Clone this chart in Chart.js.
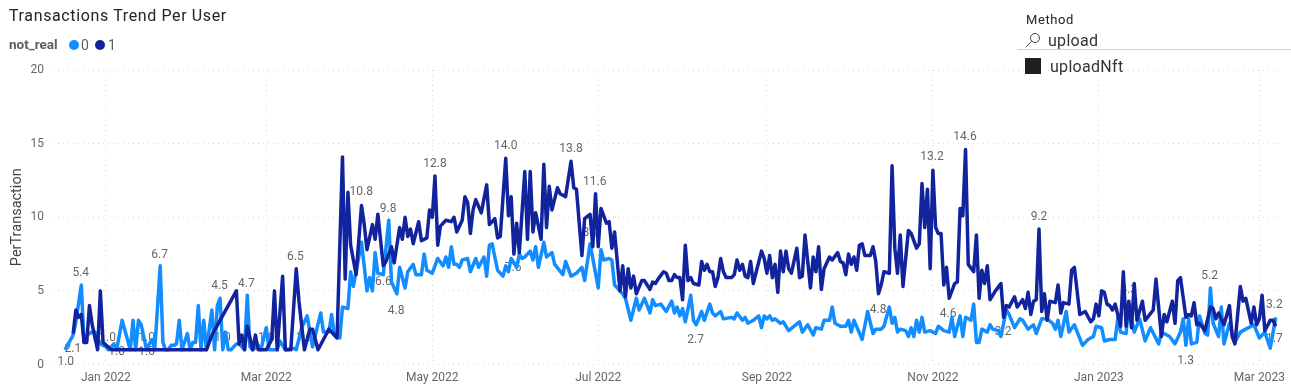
<!DOCTYPE html>
<html>
<head>
<meta charset="utf-8">
<title>Transactions Trend Per User</title>
<script src="https://cdn.jsdelivr.net/npm/chart.js@4"></script>
<style>
  html, body { margin: 0; padding: 0; background: #fff; }
  body { width: 1291px; height: 389px; position: relative; overflow: hidden; font-family: Roboto, "Noto Sans", sans-serif; }
  canvas { position: absolute; left: 0; top: 2px; }
  .txt { position: absolute; white-space: nowrap; line-height: 1; }
  #title { left: 9px; top: 8px; font-size: 16px; color: #252423; letter-spacing: 0.63px; }
  #legend-name { left: 9px; top: 38px; font-size: 13.5px; font-weight: 700; color: #605e5c; }
  .dot { position: absolute; top: 40px; width: 10px; height: 10px; border-radius: 50%; }
  .legend-val { top: 38px; font-size: 14px; color: #605e5c; }
  #slicer-name { left: 1026px; top: 13px; font-size: 13px; color: #252423; letter-spacing: 0.6px; }
  #search { left: 1048px; top: 33px; font-size: 16px; color: #333; letter-spacing: 0.3px; }
  #rule { position: absolute; left: 1017px; top: 49px; width: 274px; height: 1px; background: #d0d0d0; }
  #box { position: absolute; left: 1025px; top: 58px; width: 16px; height: 16px; background: #1f1f1f; }
  #item { left: 1050px; top: 59px; font-size: 16px; color: #333; letter-spacing: 0.3px; }
  #icon { position: absolute; left: 1025px; top: 32px; }
</style>
</head>
<body>
<canvas id="chart" width="1291" height="389"></canvas>
<div class="txt" id="title">Transactions Trend Per User</div>
<div class="txt" id="legend-name">not_real</div>
<div class="dot" style="left:69px;background:#118dff"></div>
<div class="txt legend-val" style="left:81px">0</div>
<div class="dot" style="left:95px;background:#12239e"></div>
<div class="txt legend-val" style="left:108px">1</div>
<div class="txt" id="slicer-name">Method</div>
<svg id="icon" width="16" height="16" viewBox="0 0 16 16"><circle cx="10" cy="6" r="4.5" fill="none" stroke="#444" stroke-width="1"/><line x1="6.6" y1="9.4" x2="1" y2="15" stroke="#444" stroke-width="1"/></svg>
<div class="txt" id="search">upload</div>
<div id="rule"></div>
<div id="box"></div>
<div class="txt" id="item">uploadNft</div>

<script>
// x values are days counted from 1 Jan 2022
const tickDays = [0, 59, 120, 181, 243, 304, 365, 424];
const tickLabels = ["Jan 2022", "Mar 2022", "May 2022", "Jul 2022", "Sep 2022", "Nov 2022", "Jan 2023", "Mar 2023"];
const yTicks = [0, 5, 10, 15, 20];

const days0 = [
  -15, -12, -11, -9, -8, -7, -5, -4, -2, 0, 1, 3, 4, 6, 9, 10, 11, 12, 13, 15, 16, 17, 18, 20, 21, 22, 23, 24, 25, 26,
  27, 28, 30, 31, 32, 33, 34, 35, 36, 37, 39, 40, 41, 42, 43, 44, 45, 46, 48, 49, 51, 52, 53, 54, 56, 57, 59, 60, 63, 64,
  66, 69, 70, 72, 74, 76, 79, 80, 82, 83, 84, 86, 87, 89, 90, 91, 94, 96, 97, 98, 99, 100, 102, 104, 105, 107, 108, 110, 111, 113,
  114, 116, 117, 118, 120, 122, 124, 125, 126, 127, 128, 129, 130, 131, 133, 134, 136, 137, 139, 140, 141, 142, 144, 146, 147, 148, 149, 151, 152, 153,
  154, 156, 157, 158, 159, 161, 162, 164, 165, 168, 169, 171, 173, 175, 176, 178, 181, 182, 183, 185, 186, 187, 190, 191, 193, 195, 196, 198, 200, 201,
  202, 204, 206, 208, 209, 210, 211, 212, 213, 215, 216, 217, 219, 220, 222, 223, 224, 226, 227, 230, 231, 232, 234, 235, 236, 238, 240, 241, 242, 243,
  244, 245, 246, 248, 249, 251, 253, 255, 256, 258, 260, 261, 263, 264, 266, 267, 268, 270, 272, 273, 274, 275, 278, 280, 282, 283, 285, 286, 288, 289,
  290, 291, 292, 294, 295, 296, 297, 298, 299, 300, 301, 303, 305, 306, 308, 310, 311, 312, 314, 315, 316, 318, 319, 320, 321, 322, 324, 325, 326, 328,
  329, 331, 332, 334, 336, 337, 339, 341, 342, 344, 346, 348, 349, 350, 351, 353, 354, 356, 359, 361, 363, 364, 366, 367, 369, 371, 372, 373, 375, 376,
  378, 380, 382, 384, 387, 388, 391, 393, 395, 396, 397, 398, 399, 401, 402, 404, 405, 406, 407, 409, 410, 411, 413, 415, 417, 419, 422, 424, 426, 428, 430
];
const values0 = [
  1.0, 2.0, 2.9, 5.4, 1.5, 2.0, 2.2, 2.2, 1.4, 1.2, 1.0, 1.4, 1.0, 3.0, 1.0, 3.0, 1.0, 3.0, 2.7, 1.0, 1.4, 1.7, 1.0, 6.7, 1.5, 1.0, 1.0, 1.3, 1.3, 1.4,
  3.0, 1.0, 2.1, 1.0, 1.5, 1.5, 4.0, 1.0, 3.0, 1.0, 3.7, 1.0, 4.0, 4.5, 1.0, 2.2, 1.0, 1.0, 1.4, 1.4, 1.0, 4.7, 1.2, 1.0, 1.3, 1.0, 2.5, 1.0, 1.0, 1.6,
  1.0, 1.1, 1.0, 2.5, 3.3, 1.2, 3.5, 2.2, 2.2, 3.4, 2.0, 1.8, 3.9, 3.8, 6.3, 5.3, 8.3, 5.0, 5.9, 5.0, 7.6, 6.2, 6.1, 9.8, 5.6, 4.8, 6.6, 5.2, 6.3, 6.8,
  6.1, 6.1, 7.5, 6.4, 6.2, 7.2, 6.7, 7.3, 6.6, 8.0, 6.8, 6.8, 6.6, 7.1, 7.2, 6.3, 7.2, 6.6, 7.3, 6.0, 8.1, 8.2, 6.4, 6.0, 6.7, 6.3, 7.2, 6.6, 7.5, 7.2,
  7.3, 7.7, 7.1, 8.0, 6.6, 8.3, 7.3, 7.6, 6.8, 6.1, 7.0, 6.0, 6.2, 6.6, 5.7, 8.2, 5.2, 7.8, 7.1, 7.2, 7.1, 5.4, 4.8, 4.5, 3.0, 4.5, 3.7, 4.5, 3.5, 4.4,
  4.0, 4.1, 3.6, 4.3, 3.5, 3.9, 3.3, 3.8, 2.9, 4.7, 3.0, 2.7, 3.6, 3.0, 4.1, 3.5, 3.3, 3.6, 3.1, 3.2, 3.1, 3.5, 3.0, 3.2, 2.8, 3.0, 3.3, 2.5, 3.3, 3.1,
  3.3, 3.0, 3.1, 2.8, 2.9, 2.3, 2.6, 2.9, 2.2, 2.7, 2.0, 2.5, 2.4, 3.0, 3.0, 3.9, 2.8, 2.6, 2.6, 3.0, 2.2, 3.0, 1.7, 3.6, 2.1, 2.4, 2.4, 2.6, 3.9, 2.8,
  3.2, 2.2, 2.4, 2.3, 1.9, 2.5, 1.9, 3.0, 2.2, 3.2, 2.2, 2.3, 2.1, 2.6, 2.3, 2.2, 3.2, 1.9, 3.3, 1.9, 3.2, 3.0, 4.1, 1.5, 1.5, 2.4, 2.2, 2.7, 2.4, 2.3,
  1.9, 3.7, 3.4, 2.5, 3.1, 3.0, 2.4, 2.7, 2.1, 3.1, 3.1, 2.8, 2.4, 3.0, 1.9, 3.6, 2.2, 2.7, 1.3, 1.7, 1.9, 2.6, 2.5, 1.6, 1.7, 1.7, 3.2, 2.2, 2.1, 4.1,
  2.2, 3.1, 1.6, 2.5, 1.4, 2.2, 1.9, 1.4, 2.2, 3.1, 1.3, 3.1, 1.4, 1.5, 3.3, 2.1, 2.0, 5.2, 2.8, 1.9, 3.9, 1.4, 2.8, 1.5, 2.2, 2.4, 2.7, 1.8, 2.2, 1.1, 3.2
];

const days1 = [
  -12, -11, -10, -9, -8, -7, -6, -5, -3, -2, -1, 2, 37, 39, 48, 49, 50, 51, 52, 54, 55, 56, 58, 59, 61, 62, 63, 65, 66, 68,
  70, 71, 73, 75, 76, 78, 80, 82, 85, 87, 88, 89, 90, 92, 94, 95, 96, 98, 99, 100, 102, 103, 105, 106, 108, 109, 110, 111, 112, 113,
  115, 116, 118, 119, 120, 121, 122, 123, 125, 127, 128, 129, 131, 132, 133, 134, 135, 136, 138, 140, 141, 143, 144, 145, 147, 148, 149, 150, 151, 152,
  154, 155, 156, 157, 158, 160, 161, 162, 163, 164, 166, 167, 169, 171, 172, 173, 175, 176, 178, 179, 180, 181, 182, 184, 185, 186, 187, 189, 190, 191,
  192, 193, 194, 195, 197, 198, 200, 201, 202, 203, 205, 206, 207, 208, 209, 210, 211, 212, 213, 214, 215, 216, 218, 219, 220, 221, 222, 223, 224, 225,
  226, 227, 228, 230, 231, 232, 233, 234, 235, 236, 237, 238, 241, 242, 243, 244, 245, 246, 247, 248, 249, 250, 251, 252, 254, 255, 256, 257, 259, 260,
  261, 262, 263, 264, 266, 267, 269, 270, 271, 272, 273, 274, 275, 276, 277, 278, 279, 281, 282, 283, 284, 285, 286, 288, 289, 290, 291, 292, 293, 295,
  296, 298, 299, 300, 301, 302, 303, 304, 305, 306, 307, 308, 309, 310, 312, 313, 314, 315, 316, 317, 319, 320, 321, 322, 323, 324, 325, 327, 329, 330,
  331, 332, 334, 335, 337, 338, 339, 340, 341, 342, 343, 344, 345, 346, 347, 349, 350, 351, 352, 354, 355, 356, 358, 360, 362, 363, 364, 365, 366, 367,
  368, 369, 370, 371, 373, 374, 375, 376, 377, 378, 379, 381, 382, 385, 386, 388, 389, 390, 392, 393, 394, 395, 397, 398, 399, 400, 401, 402, 404, 406,
  407, 408, 409, 411, 413, 414, 415, 417, 418, 419, 421, 422, 423, 424, 425, 426, 428, 429, 430
];
const values1 = [
  2.1, 3.7, 3.2, 3.4, 1.5, 1.5, 4.0, 2.7, 1.0, 5.0, 1.5, 1.0, 1.0, 2.0, 5.0, 1.4, 2.0, 1.0, 2.6, 1.0, 2.0, 1.0, 1.0, 1.0, 1.7, 5.0, 1.0, 6.0, 1.0, 1.0,
  6.5, 4.3, 1.0, 2.4, 2.4, 1.0, 1.7, 2.4, 1.8, 14.1, 5.8, 11.7, 8.1, 6.1, 10.8, 9.5, 7.8, 9.5, 8.5, 10.2, 6.7, 7.0, 8.0, 6.9, 9.3, 8.5, 10.0, 8.7, 9.2, 8.2,
  9.7, 8.4, 8.6, 10.5, 10.0, 12.8, 8.1, 9.4, 9.8, 9.7, 10.0, 9.0, 9.8, 11.4, 11.0, 8.9, 10.5, 11.2, 10.3, 12.2, 9.5, 9.9, 8.6, 8.7, 14.0, 10.1, 11.4, 7.5, 9.6, 7.6,
  13.1, 8.5, 13.1, 9.0, 10.3, 8.5, 13.6, 9.3, 12.1, 10.5, 12.0, 11.6, 11.4, 13.8, 12.0, 11.9, 7.4, 9.9, 10.2, 8.0, 11.6, 8.0, 10.6, 9.6, 9.7, 7.9, 9.0, 5.0, 6.7, 4.6,
  6.5, 5.2, 6.0, 4.8, 5.7, 5.7, 5.1, 5.6, 5.5, 5.8, 6.3, 6.2, 5.7, 5.7, 6.1, 5.9, 5.9, 4.4, 8.1, 5.7, 5.9, 5.5, 5.4, 7.0, 6.4, 6.8, 6.3, 6.3, 5.3, 5.9,
  7.2, 6.3, 5.9, 5.9, 6.1, 7.1, 6.4, 6.8, 6.0, 5.9, 7.0, 5.5, 7.7, 7.2, 6.2, 7.4, 5.9, 6.8, 4.9, 7.7, 6.3, 7.7, 6.5, 6.2, 7.9, 5.9, 6.0, 8.8, 5.2, 7.3,
  6.3, 8.0, 5.1, 6.5, 7.3, 7.1, 7.6, 7.0, 6.9, 6.1, 7.5, 6.8, 7.3, 6.4, 8.1, 8.2, 7.4, 7.4, 8.0, 7.0, 4.8, 5.4, 6.3, 6.2, 13.5, 7.9, 6.2, 8.8, 5.3, 9.1,
  8.9, 7.9, 8.2, 12.3, 9.3, 11.9, 6.5, 13.2, 9.3, 8.9, 8.9, 5.4, 6.6, 4.5, 5.5, 5.6, 10.6, 10.1, 14.6, 6.8, 6.3, 8.8, 4.5, 6.4, 5.5, 6.7, 4.4, 5.0, 5.5, 3.2,
  4.0, 3.9, 4.6, 3.9, 4.4, 3.8, 4.9, 3.4, 4.3, 4.4, 9.2, 3.6, 4.8, 3.0, 4.3, 4.2, 5.4, 3.5, 4.2, 4.1, 6.4, 6.6, 3.4, 3.6, 2.9, 3.1, 4.1, 3.3, 5.0, 4.9,
  4.1, 4.0, 3.7, 4.1, 2.6, 6.3, 2.6, 4.3, 2.5, 5.5, 3.0, 4.3, 3.0, 3.7, 5.8, 1.9, 3.4, 2.9, 4.3, 2.8, 5.7, 5.9, 3.2, 3.4, 3.3, 4.2, 2.7, 2.8, 2.3, 3.9,
  3.8, 3.1, 3.5, 2.7, 4.0, 1.9, 1.4, 5.3, 4.3, 4.5, 2.8, 3.9, 2.7, 3.1, 4.7, 2.3, 3.0, 3.0, 2.6
];

// data labels: the text is the value, the day is where it sits
const labelDays = [-14.7, -12.1, -9.2, 0.7, 4, 15, 15, 19.8, 41.8, 42.9, 51.7, 59, 69.7, 73, 93.9, 103.8, 102, 106.7, 121, 147, 149.7, 171, 179.7, 178.3, 216.8, 283.9, 309.6, 303.7, 315.8, 343, 329.8, 376, 405.7, 396.9, 429.5, 429.5];
const labelTexts = ["1.0", "2.1", "5.4", "1.0", "1.0", "1.0", "1.0", "6.7", "4.5", "1.0", "4.7", "1.0", "6.5", "1.0", "10.8", "9.8", "6.6", "4.8", "12.8", "14.0", "7.6", "13.8", "11.6", "8.2", "2.7", "4.8", "4.6", "13.2", "14.6", "9.2", "3.2", "4.3", "5.2", "1.3", "3.2", "1.7"];
const labelShift = [12, 15, -12, -12, 2, -12, 2, -11, -12, -12, -11, -12, -12, -12, -13, -11, 15, 17, -12, -12, 15, -12, -12, -11, 15, 16, 17, -13, -13, -12, 15, -11, -12, 16, -12, 0];

const toPoints = (xs, ys) => ys.map((y, i) => ({ x: xs[i], y: y }));

const dataLabels = {
  id: "dataLabels",
  beforeDatasetsDraw(chart) {
    const { ctx, scales } = chart;
    ctx.save();
    ctx.font = "12px Roboto, sans-serif";
    ctx.fillStyle = "#666666";
    ctx.textAlign = "center";
    ctx.textBaseline = "middle";
    labelTexts.forEach((text, i) => {
      ctx.fillText(text, scales.x.getPixelForValue(labelDays[i]), scales.y.getPixelForValue(parseFloat(text)) + labelShift[i]);
    });
    ctx.restore();
  },
};

const gridStyle = { color: "#d9d9d9", lineWidth: 1, drawTicks: false };
const tickFont = { family: "Roboto, sans-serif", size: 12 };

new Chart(document.getElementById("chart").getContext("2d"), {
  type: "line",
  data: {
    datasets: [
      { label: "1", data: toPoints(days1, values1), borderColor: "#12239e", order: 1 },
      { label: "0", data: toPoints(days0, values0), borderColor: "#118dff", order: 2 },
    ],
  },
  plugins: [dataLabels],
  options: {
    responsive: false,
    animation: false,
    layout: { padding: { left: 0, top: 68, right: 6, bottom: 0 } },
    elements: {
      point: { radius: 0 },
      line: { borderWidth: 3.5, tension: 0, borderJoinStyle: "round" },
    },
    plugins: { legend: { display: false }, tooltip: { enabled: false } },
    scales: {
      x: {
        type: "linear",
        min: -19.4,
        max: 432.5,
        afterFit: (scale) => { scale.height = 26.5; },
        afterBuildTicks: (scale) => { scale.ticks = tickDays.map((d) => ({ value: d })); },
        border: { display: false, dash: [1, 4] },
        grid: gridStyle,
        ticks: {
          autoSkip: false,
          maxRotation: 0,
          padding: 6,
          color: "#666666",
          font: tickFont,
          callback: (value, index) => tickLabels[index],
        },
      },
      y: {
        min: 0,
        max: 20,
        afterFit: (scale) => { scale.width = 53; },
        afterBuildTicks: (scale) => { scale.ticks = yTicks.map((v) => ({ value: v })); },
        border: { display: false, dash: [1, 4] },
        grid: gridStyle,
        ticks: { padding: 9, color: "#666666", font: tickFont },
        title: {
          display: true,
          text: "PerTransaction",
          color: "#444444",
          font: { family: "Roboto, sans-serif", size: 14.5 },
          padding: { top: 9, bottom: 0 },
        },
      },
    },
  },
});
</script>
</body>
</html>
